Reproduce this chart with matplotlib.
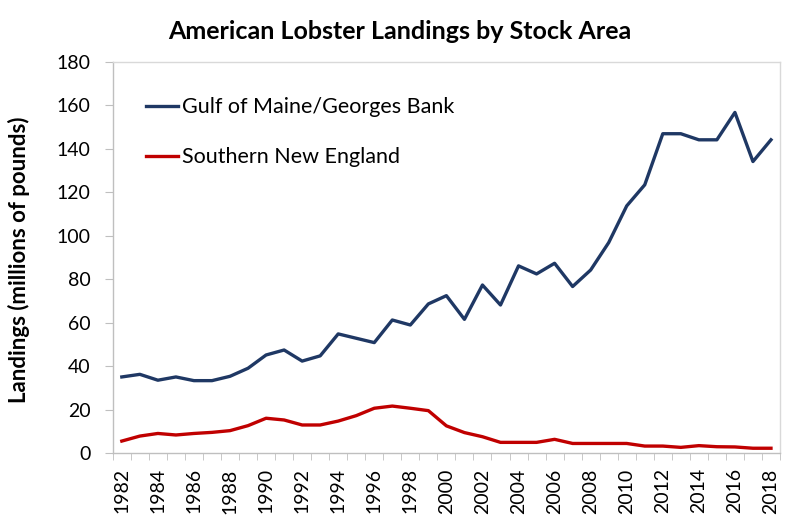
import matplotlib
matplotlib.use("Agg")
import matplotlib.pyplot as plt
import numpy as np

plt.rcParams['font.family'] = ['Lato', 'DejaVu Sans']

years = list(range(1982, 2019))
gulf_maine = [35, 36.2, 33.5, 35, 33.3, 33.3, 35.3, 39, 45.1, 47.4, 42.3, 44.7, 54.8,
              52.8, 50.8, 61.2, 58.9, 68.6, 72.4, 61.5, 77.3, 68.1, 86.1, 82.4, 87.3,
              76.6, 84.2, 96.8, 113.7, 123.4, 146.9, 146.9, 144.1, 144.1, 156.7, 134.1, 144.1]
southern_ne = [5.5, 7.8, 9, 8.3, 9, 9.5, 10.3, 12.6, 16, 15.2, 12.9, 12.9, 14.7,
               17.2, 20.6, 21.6, 20.6, 19.5, 12.5, 9.4, 7.5, 4.9, 4.9, 4.9, 6.3,
               4.4, 4.4, 4.4, 4.4, 3.2, 3.2, 2.6, 3.4, 2.9, 2.8, 2.2, 2.2]
series_names = ["Gulf of Maine/Georges Bank", "Southern New England"]
title = "American Lobster Landings by Stock Area"
ylabel = "Landings (millions of pounds)"

fig = plt.figure(figsize=(8, 5.28), dpi=100)
ax = fig.add_axes([0.141, 0.142, 0.834, 0.741])

x = np.arange(len(years))
ax.plot(x, gulf_maine, color='#1F3864', lw=2.4, label=series_names[0])
ax.plot(x, southern_ne, color='#C00000', lw=2.4, label=series_names[1])

ax.set_xlim(-0.5, len(years) - 0.5)
ax.set_ylim(0, 180)
ax.set_yticks(np.arange(0, 181, 20))
ax.tick_params(axis='y', labelsize=14, length=6, color='#BFBFBF', pad=10)

ax.set_xticks(x[::2])
ax.set_xticklabels([str(y) for y in years[::2]], rotation=90, fontsize=14)
ax.set_xticks(np.arange(-0.5, len(years), 1), minor=True)
ax.tick_params(axis='x', which='major', length=0, pad=11)
ax.tick_params(axis='x', which='minor', length=5, color='#BFBFBF')

for s in ax.spines.values():
    s.set_color('#D9D9D9')
    s.set_linewidth(1.0)
ax.spines['left'].set_color('#BFBFBF')
ax.spines['bottom'].set_color('#BFBFBF')

fig.text(19 / 800, 1 - 260 / 528, ylabel, rotation=90, ha='center', va='center',
         fontsize=16, fontweight='bold')
fig.text(0.5, 0.941, title, ha='center', va='center', fontsize=18, fontweight='bold')

leg = ax.legend(loc='upper left', bbox_to_anchor=(0.021, 0.959), frameon=False,
                fontsize=15.5, handlelength=1.5, handletextpad=0.15, labelspacing=1.4)

fig.savefig('out.png', dpi=100)
